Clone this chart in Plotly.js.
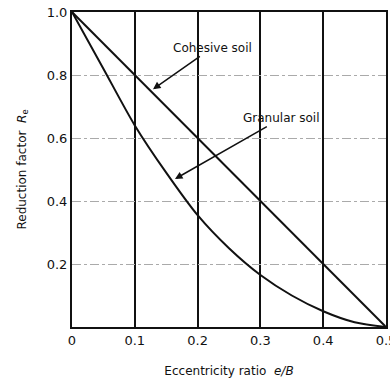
<!DOCTYPE html>
<html>
<head>
<meta charset="utf-8">
<script src="https://cdn.plot.ly/plotly-3.0.1.min.js"></script>
<style>html,body{margin:0;padding:0;background:#fff;}#chart{width:390px;height:384px;}</style>
</head>
<body>
<div id="chart"></div>
<script>
// Eccentricity ratio e/B
const cohesiveX = [0, 0.5];
const cohesiveY = [1.0, 0.0];
const granularX = [0, 0.05, 0.1, 0.15, 0.2, 0.25, 0.3, 0.35, 0.4, 0.45, 0.5];
const granularY = [1.0, 0.82, 0.64, 0.49, 0.355, 0.25, 0.165, 0.1, 0.05, 0.015, 0.0];
const xTickVals = [0, 0.1, 0.2, 0.3, 0.4, 0.5];
const xTickText = ["0", "0.1", "0.2", "0.3", "0.4", "0.5"];
const yTickVals = [0.2, 0.4, 0.6, 0.8, 1.0];
const yTickText = ["0.2", "0.4", "0.6", "0.8", "1.0"];

const font = {family: "DejaVu Sans, sans-serif", color: "#111", size: 12};

const traces = [
  {x: cohesiveX, y: cohesiveY, mode: "lines", line: {color: "#111", width: 2}, hoverinfo: "skip"},
  {x: granularX, y: granularY, mode: "lines", line: {color: "#111", width: 2, shape: "spline", smoothing: 0.8}, hoverinfo: "skip"}
];

const layout = {
  width: 390, height: 384,
  margin: {l: 72, r: 4, t: 12, b: 57},
  paper_bgcolor: "#fff", plot_bgcolor: "#fff",
  showlegend: false,
  font: font,
  xaxis: {
    range: [0, 0.5], tickvals: xTickVals, ticktext: xTickText,
    showgrid: true, gridcolor: "#111", gridwidth: 2,
    showline: true, linecolor: "#111", linewidth: 2, mirror: true,
    ticks: "", zeroline: false, fixedrange: true, ticklabeloverflow: "allow",
    tickfont: {family: "DejaVu Sans, sans-serif", size: 13, color: "#111"},
    title: {text: "Eccentricity ratio  <i>e/B</i>", font: {family: "DejaVu Sans, sans-serif", size: 12, color: "#111"}, standoff: 20}
  },
  yaxis: {
    range: [0, 1.0], tickvals: yTickVals, ticktext: yTickText,
    showgrid: true, gridcolor: "#aaa", gridwidth: 1, griddash: "dashdot",
    showline: true, linecolor: "#111", linewidth: 2, mirror: true,
    ticks: "", zeroline: false, fixedrange: true,
    tickfont: {family: "DejaVu Sans, sans-serif", size: 13, color: "#111"},
    title: {text: "Reduction factor  <i>R</i><sub>e</sub>", font: {family: "DejaVu Sans, sans-serif", size: 12, color: "#111"}, standoff: 18}
  },
  annotations: [
    {x: 0.129, y: 0.755, ax: 0.223, ay: 0.886, axref: "x", ayref: "y", xref: "x", yref: "y",
     text: "Cohesive soil", showarrow: true, arrowhead: 2, arrowsize: 1, arrowwidth: 1.5, arrowcolor: "#111",
     standoff: 0, font: {family: "DejaVu Sans, sans-serif", size: 12, color: "#111"}},
    {x: 0.164, y: 0.47, ax: 0.334, ay: 0.663, axref: "x", ayref: "y", xref: "x", yref: "y",
     text: "Granular soil", showarrow: true, arrowhead: 2, arrowsize: 1, arrowwidth: 1.5, arrowcolor: "#111",
     standoff: 0, font: {family: "DejaVu Sans, sans-serif", size: 12, color: "#111"}}
  ]
};

Plotly.newPlot("chart", traces, layout, {displayModeBar: false, staticPlot: true});
</script>
</body>
</html>
